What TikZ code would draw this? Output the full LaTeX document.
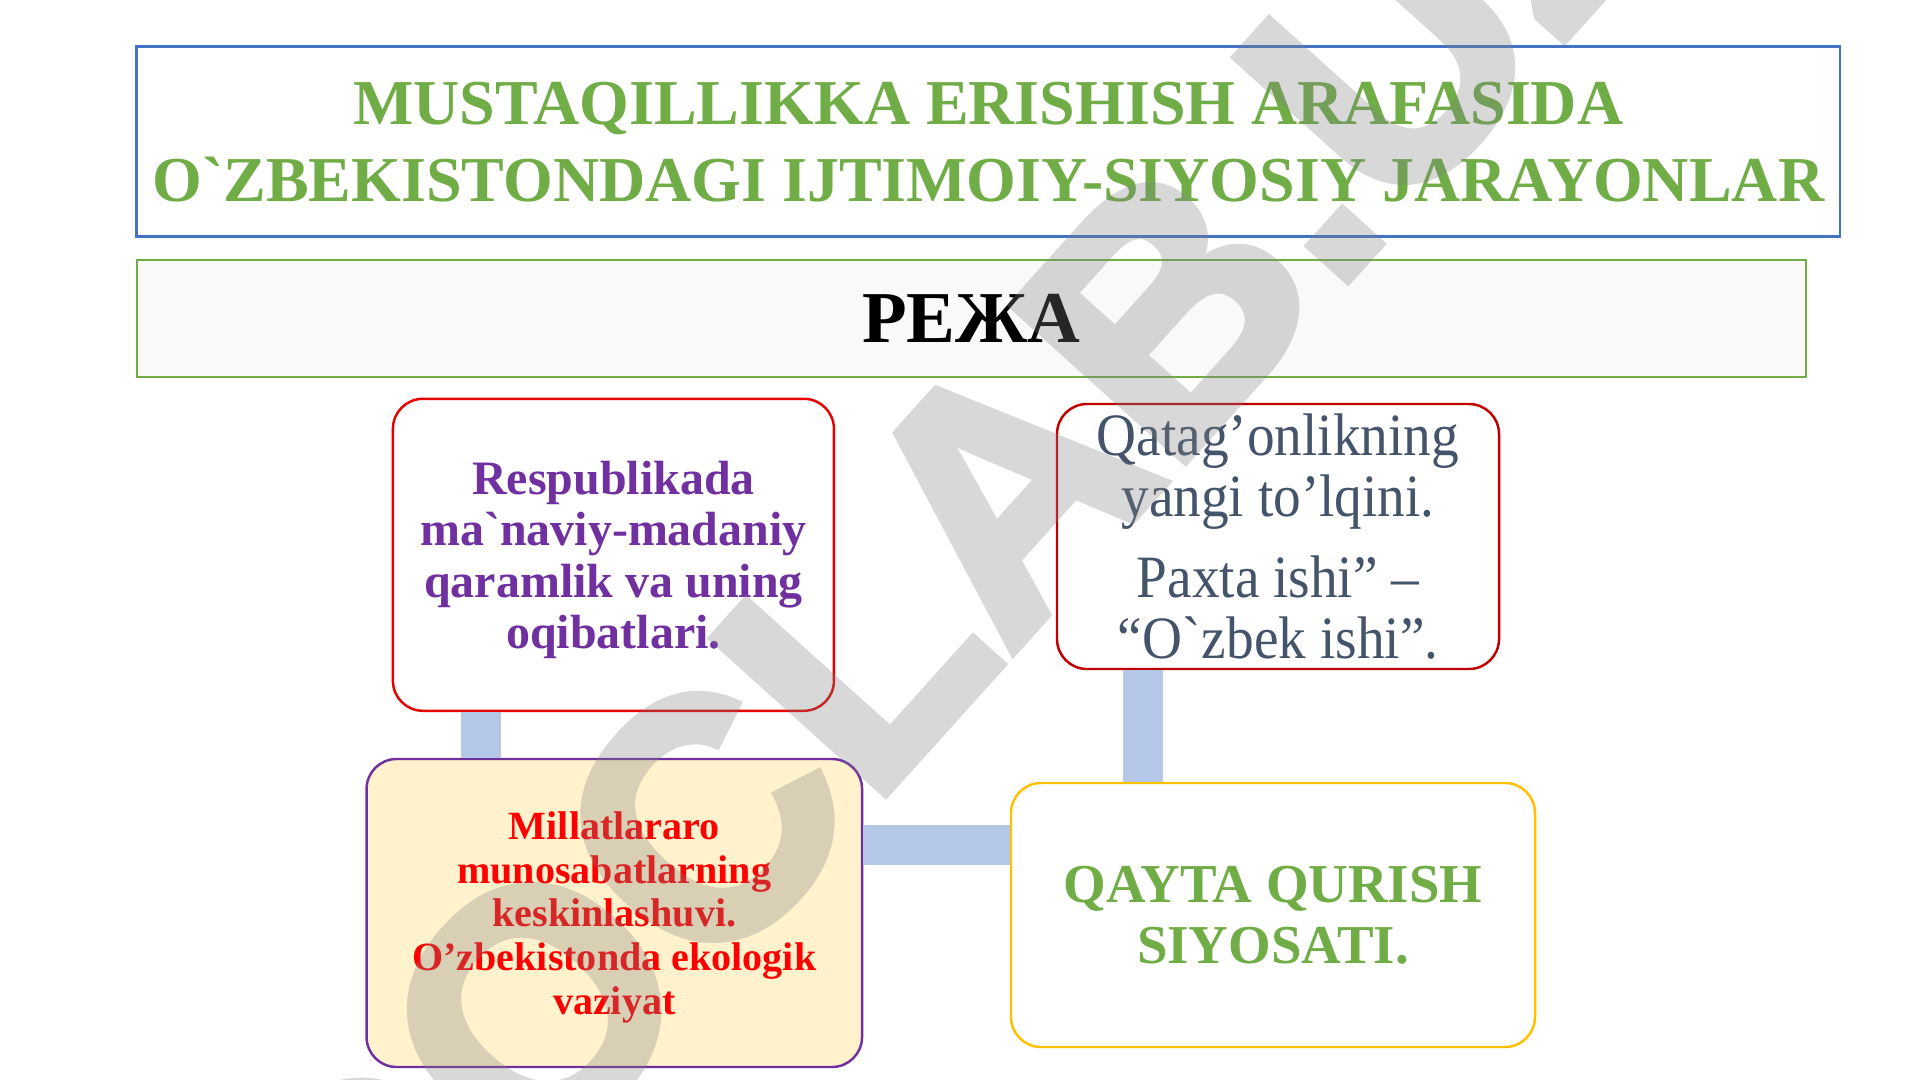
\documentclass[tikz,border=0pt]{standalone}
\usepackage{fontspec}
\setmainfont{Liberation Serif}
\newfontfamily\stampfont[FakeBold=3]{Liberation Sans Bold}
\newfontfamily\slimfont[FakeStretch=0.92]{Liberation Serif}
\usetikzlibrary{positioning}

\definecolor{leafgreen}{HTML}{70AD47}
\definecolor{headblue}{HTML}{4472C4}
\definecolor{planfill}{HTML}{F9F9F9}
\definecolor{boxred}{HTML}{E60000}
\definecolor{darkred}{HTML}{C00000}
\definecolor{plum}{HTML}{7030A0}
\definecolor{slate}{HTML}{44546A}
\definecolor{cream}{HTML}{FFF2CC}
\definecolor{gold}{HTML}{FFC000}
\definecolor{linkblue}{HTML}{B4C7E7}

\begin{document}
\begin{tikzpicture}[
    heading/.style={rectangle, draw=headblue, line width=0.8pt, minimum width=17.03cm, minimum height=1.9cm, align=center, text=leafgreen, font=\bfseries\fontsize{18.2pt}{21.9pt}\selectfont},
    plan/.style={rectangle, draw=leafgreen, fill=planfill, line width=0.5pt, minimum width=16.69cm, minimum height=1.17cm, font=\bfseries\fontsize{20.8pt}{24pt}\selectfont},
    topic/.style={rectangle, rounded corners=0.3cm, line width=0.7pt, align=center, inner sep=0pt},
    link/.style={draw=linkblue, line width=0.4cm},
    stamp/.style={font=\stampfont\fontsize{95.6pt}{96pt}\selectfont, text=gray, inner sep=0pt}
]

\path[fill=white, use as bounding box] (0,0) rectangle (19.2,-10.8);

% Title and plan
\node[heading, text depth=-0.1cm] (title) at (9.884,-1.417) {MUSTAQILLIKKA ERISHISH ARAFASIDA\\O\textasciigrave ZBEKISTONDAGI IJTIMOIY-SIYOSIY JARAYONLAR};
\node[plan] (plan) at (9.714,-3.185) {РЕЖА};

% Topics
\node[topic, draw=boxred, fill=white, text=plum, minimum width=4.41cm, minimum height=3.12cm, text depth=0pt, font=\bfseries\fontsize{13.65pt}{14.65pt}\selectfont] (culture) at (6.134,-5.548) {Respublikada\\ma\textasciigrave naviy-madaniy\\qaramlik va uning\\oqibatlari.};
\node[topic, draw=darkred, fill=white, text=slate, minimum width=4.42cm, minimum height=2.65cm, font=\slimfont\fontsize{17.1pt}{17.35pt}\selectfont] (repression) at (12.78,-5.365) {Qatag’onlikning\\yangi to’lqini.\\[5.7pt]Paxta ishi” –\\“O\textasciigrave zbek ishi”.};
\node[topic, draw=plum, fill=cream, text=red, minimum width=4.955cm, minimum height=3.08cm, text depth=0pt, font=\bfseries\fontsize{11.4pt}{12.4pt}\selectfont] (nations) at (6.143,-9.13) {Millatlararo\\munosabatlarning\\keskinlashuvi.\\O’zbekistonda ekologik\\vaziyat};
\node[topic, draw=gold, fill=white, text=leafgreen, minimum width=5.24cm, minimum height=2.64cm, font=\bfseries\fontsize{15.6pt}{17.35pt}\selectfont] (rebuild) at (12.73,-9.15) {QAYTA QURISH\\SIYOSATI.};

% Links
\draw[link] ([xshift=0.893cm]culture.south west) -- ([xshift=0.893cm]culture.south west |- nations.north);
\draw[link] ([xshift=0.87cm]repression.south west) -- ([xshift=0.87cm]repression.south west |- rebuild.north);
\draw[link] ([yshift=-0.87cm]nations.north east) -- ([yshift=-0.87cm]nations.north east -| rebuild.west);

% Watermark
\begin{scope}[transparency group, opacity=0.3]
\node[stamp, rotate=48, anchor=base] (mark) at (10.33,-6.29) {DOCLAB.UZ};
\end{scope}

\end{tikzpicture}
\end{document}
